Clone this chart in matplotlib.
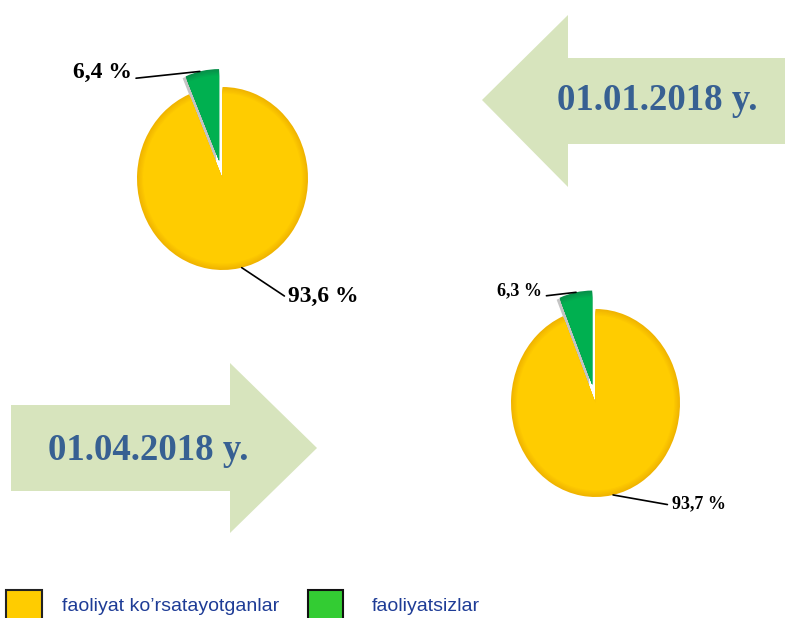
import math
import matplotlib
matplotlib.use('Agg')
import matplotlib.pyplot as plt
from matplotlib.patches import Polygon, Rectangle, Wedge
from matplotlib.colors import to_rgb

# ---- data ----
categories = ['faoliyat ko’rsatayotganlar', 'faoliyatsizlar']
dates = ['01.01.2018 y.', '01.04.2018 y.']
active_share = [93.6, 93.7]
inactive_share = [6.4, 6.3]

W_PX, H_PX = 785, 618
fig = plt.figure(figsize=(7.85, 6.18), dpi=100)
bg = fig.add_axes([0, 0, 1, 1])
bg.set_xlim(0, W_PX)
bg.set_ylim(H_PX, 0)
bg.axis('off')

ARROW = '#D7E4BD'
TITLE = '#376092'
YEL, YEL_D = '#FFCC00', '#F0B400'
GRN, GRN_D = '#00B050', '#08904A'
LEG_TXT = '#1E3C96'
SERIF = ['Liberation Serif', 'DejaVu Serif']
SANS = ['Liberation Sans', 'DejaVu Sans']

# arrows
bg.add_patch(Polygon([(482, 100), (568, 15), (568, 58), (786, 58), (786, 144),
                      (568, 144), (568, 187)], closed=True, fc=ARROW, ec='none'))
bg.add_patch(Polygon([(11, 405), (230, 405), (230, 363), (317, 448), (230, 533),
                      (230, 491), (11, 491)], closed=True, fc=ARROW, ec='none'))
bg.text(657, 110, dates[0], ha='center', va='baseline', fontsize=26.5,
        fontweight='bold', family=SERIF, color=TITLE)
bg.text(148, 460, dates[1], ha='center', va='baseline', fontsize=26.5,
        fontweight='bold', family=SERIF, color=TITLE)

# legend
bg.add_patch(Rectangle((6, 590), 36, 32, fc=YEL, ec='#222222', lw=1.5))
bg.add_patch(Rectangle((308, 590), 35, 32, fc='#33CC33', ec='#111111', lw=1.5))
bg.text(62, 611, categories[0], ha='left', va='baseline', fontsize=14,
        family=SANS, color=LEG_TXT)
bg.text(372, 611, categories[1], ha='left', va='baseline', fontsize=14,
        family=SANS, color=LEG_TXT)


def fmt(v):
    return f"{v:.1f} %".replace('.', ',')


def mix(c1, c2, t):
    a, b = to_rgb(c1), to_rgb(c2)
    return tuple(a[i] * (1 - t) + b[i] * t for i in range(3))


def draw_pie(cx, cy, rx, ry, inactive, active, fsize, pos_in, pos_act, ang_in, ang_act):
    L = 1.5
    w, h = 2 * L * rx, 2 * L * ry
    ax = fig.add_axes([(cx - w / 2) / W_PX, (H_PX - cy - h / 2) / H_PX, w / W_PX, h / H_PX])
    ax.patch.set_alpha(0)
    vals = [inactive, active]
    outer, _ = ax.pie(vals, startangle=90, counterclock=True, explode=[0.2, 0],
                      colors=[GRN_D, YEL_D], radius=1.0, wedgeprops=dict(linewidth=0))
    # soft shadow under exploded slice
    g = outer[0]
    sh = Wedge((g.center[0] - 0.035, g.center[1] - 0.02), g.r, g.theta1, g.theta2,
               fc='#C4C4C4', ec='none', zorder=g.get_zorder() - 0.5)
    ax.add_patch(sh)
    # bevel: layered radii blending to the main colour
    n = 5
    for k in range(1, n + 1):
        t = k / n
        ax.pie(vals, startangle=90, counterclock=True, explode=[0.2, 0],
               colors=[mix(GRN_D, GRN, t), mix(YEL_D, YEL, t)],
               radius=1.0 - 0.014 * k, wedgeprops=dict(linewidth=0))
    ax.set_aspect('auto')
    ax.set_xlim(-L, L)
    ax.set_ylim(-L, L)

    for wdg, v, pos, ang, ha, rel in [(outer[0], inactive, pos_in, ang_in, 'right', (1, 0.2)),
                                      (outer[1], active, pos_act, ang_act, 'left', (0, 0.4))]:
        c = wdg.center
        pt = (c[0] + wdg.r * math.cos(math.radians(ang)),
              c[1] + wdg.r * math.sin(math.radians(ang)))
        ax.annotate(fmt(v), xy=pt, xytext=pos, ha=ha, va='center',
                    fontsize=fsize, fontweight='bold', family=SERIF, color='black',
                    annotation_clip=False,
                    arrowprops=dict(arrowstyle='-', color='black', lw=1.2,
                                    shrinkA=1, shrinkB=0, relpos=rel))
    return ax


draw_pie(222.5, 178.5, 85.5, 91.5, inactive_share[0], active_share[0], 17,
         (-1.06, 1.16), (0.77, -1.29), 103, -77)
draw_pie(595.5, 403, 84.5, 94, inactive_share[1], active_share[1], 13,
         (-0.63, 1.19), (0.9, -1.07), 101, -78)

fig.savefig('out.png', dpi=100)
